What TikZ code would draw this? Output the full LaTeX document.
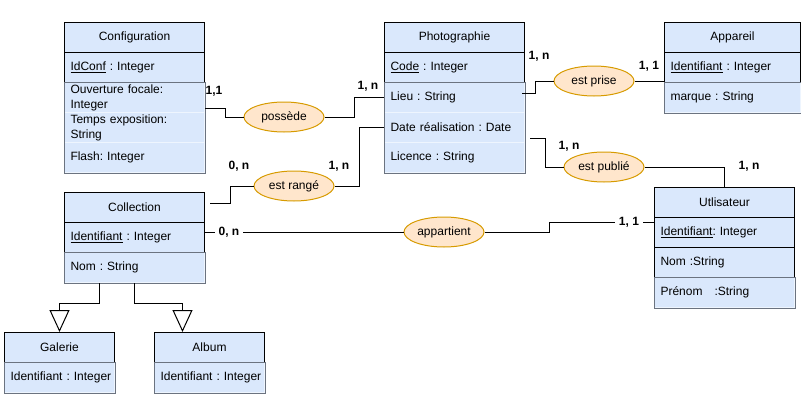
\documentclass[tikz,border=0pt]{standalone}
\usepackage{fontspec}
\setmainfont{Liberation Sans}
\usetikzlibrary{arrows.meta,shapes.geometric}

\definecolor{classfill}{HTML}{DAE8FC}
\definecolor{rowline}{HTML}{6B7380}
\definecolor{assocfill}{HTML}{FFE6CC}
\definecolor{assocline}{HTML}{D79B00}

\begin{document}
\begin{tikzpicture}[x=1pt,y=-1pt,line width=1pt,
  every node/.style={font=\fontsize{12}{15}\selectfont\frenchspacing},
  head/.style={draw=black, fill=classfill, minimum width=#1, minimum height=30pt,
    inner sep=0pt, anchor=north west},
  head/.default=140pt,
  keyrow/.style={draw=black, fill=classfill, text width=#1, inner xsep=6pt,
    inner ysep=0pt, minimum height=30pt, align=left, anchor=north west},
  keyrow/.default=128pt,
  attr/.style={keyrow=#1, draw=white!55!classfill},
  attr/.default=128pt,
  assoc/.style={ellipse, draw=assocline, fill=assocfill, minimum width=80pt,
    minimum height=30pt, inner sep=0pt},
  card/.style={font=\bfseries\fontsize{12}{14}\selectfont, inner sep=1pt},
  cardon/.style={card, fill=white, inner xsep=4pt},
  isa/.style={-{Triangle[open, width=20pt, length=22pt]}}]

  \useasboundingbox (0,0) rectangle (801,410);

  % configuration
  \node[head] (conf) at (64,22) {Configuration};
  \node[keyrow] (conf-id) at (64,52) {\underline{IdConf} : Integer};
  \node[attr] (conf-ouv) at (64,82) {Ouverture focale:\\Integer};
  \node[attr] (conf-temps) at (64,112) {Temps exposition:\\String};
  \node[attr] (conf-flash) at (64,142) {Flash: Integer};

  % photographie
  \node[head] (photo) at (384,22) {Photographie};
  \node[keyrow] (photo-code) at (384,52) {\underline{Code} : Integer};
  \node[attr] (photo-lieu) at (384,82) {Lieu : String};
  \node[attr] (photo-date) at (384,112) {Date réalisation : Date};
  \node[attr] (photo-lic) at (384,142) {Licence : String};

  % appareil
  \node[head=136pt] (app) at (664,22) {Appareil};
  \node[keyrow=124pt] (app-id) at (664,52) {\underline{Identifiant} : Integer};
  \node[attr=124pt] (app-marque) at (664,82) {marque : String};

  % collection
  \node[head] (coll) at (64,192) {Collection};
  \node[keyrow] (coll-id) at (64,222) {\underline{Identifiant} : Integer};
  \node[attr] (coll-nom) at (64,252) {Nom : String};

  % utilisateur
  \node[head] (user) at (654,187) {Utlisateur};
  \node[keyrow] (user-id) at (654,217) {\underline{Identifiant}: Integer};
  \node[keyrow] (user-nom) at (654,247) {Nom :String};
  \node[attr] (user-prenom) at (654,277) {Prénom\hspace{12pt}:String};

  % galerie and album
  \node[head=110pt] (gal) at (4,332) {Galerie};
  \node[attr=98pt] (gal-id) at (4,362) {\mbox{Identifiant : Integer}};
  \node[head=110pt] (alb) at (154,332) {Album};
  \node[attr=98pt] (alb-id) at (154,362) {\mbox{Identifiant : Integer}};

  % outlines of the attribute parts
  \foreach \a/\b in {conf-ouv/conf-flash, photo-lieu/photo-lic, app-marque/app-marque,
      coll-nom/coll-nom, user-prenom/user-prenom, gal-id/gal-id, alb-id/alb-id}
    \draw[rowline] (\a.north west) rectangle (\b.south east);

  % associations
  \foreach \name/\x/\y/\txt in {possede/284/117/possède, range/294/186/est rangé,
      prise/594/81/est prise, publie/604/167/est publié, appart/444/232/appartient}
    \node[assoc] (\name) at (\x,\y) {\txt};

  % links
  \draw ([yshift=-11pt]conf-ouv.east) -- ++(20,0) |- (possede.west);
  \draw (possede.east) -- ++(30,0) |- (photo-lieu.west);
  \draw ([xshift=5pt,yshift=4pt]coll.east) -- ++(20,0) |- (range.west);
  \draw (range.east) -- ++(25,0) |- (photo-date.west);
  \draw ([xshift=-3pt,yshift=4pt]photo-lieu.east) -- ++(13,0) |- (prise.west);
  \draw (prise.east) -- (prise.east -| app-id.west);
  \draw ([xshift=5pt,yshift=-11pt]photo-date.east) -- ++(15,0) |- (publie.west);
  \draw (publie.east) -| (user.north);
  \draw (coll-id.east |- appart.west) -- (appart.west);
  \draw (appart.east) -- ++(65,0) |- ([yshift=10pt]user-id.west);

  % inheritance
  \draw[isa] ([xshift=-35pt]coll-nom.south) -- ++(0,20) -| (gal.north);
  \draw[isa] (coll-nom.south) -- ++(0,20) -| ([xshift=-27pt]alb.north);

  % cardinalities
  \foreach \name/\x/\y/\txt in {c-conf/214/91/{1,1}, c-photo1/368/86/{1, n},
      c-coll1/239/166/{0, n}, c-photo2/339/166/{1, n}, c-photo3/539/56/{1, n},
      c-app/649/66/{1, 1}, c-photo4/569/146/{1, n}, c-user1/749/166/{1, n}}
    \node[card] (\name) at (\x,\y) {\txt};
  \node[cardon] (c-coll2) at (229,232) {0, n};
  \node[cardon] (c-user2) at (629,222) {1, 1};

\end{tikzpicture}
\end{document}
